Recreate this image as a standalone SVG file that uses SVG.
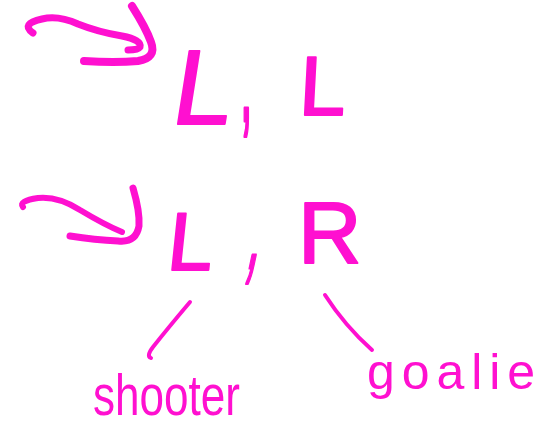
<svg xmlns="http://www.w3.org/2000/svg" width="550" height="439" viewBox="0 0 550 439">
<style>
.ink{fill:none;stroke:#ff10d0;stroke-linecap:round;stroke-linejoin:round}
.big{font-family:"Liberation Sans",Arial,sans-serif;fill:#ff10d0;stroke:#ff10d0;stroke-width:2;stroke-linejoin:round}
.hand{font-family:"Liberation Sans",Arial,sans-serif;fill:#ff10d0}
</style>
<rect width="550" height="439" fill="#ffffff"/>
<g id="arrow1">
<path class="ink" stroke-width="7" d="M33 33 Q20 24 42 19 Q58 15 78 24 Q98 32 122 36 Q142 40 140 47 Q138 50 128 50"/>
<path class="ink" stroke-width="8" d="M132 6 Q146 28 151 42 Q157 58 138 61 Q115 63 84 61"/>
</g>
<g id="row1">
<text class="big" x="170" y="124" font-size="106" transform="skewX(-9) translate(19,0)">L</text>
<text class="big" font-size="75" transform="translate(240,121) scale(0.6,1.6)">,</text>
<text class="big" x="298" y="115" font-size="84" transform="skewX(-3) translate(6,0)">L</text>
</g>
<g id="arrow2">
<path class="ink" stroke-width="6" d="M23 207 Q18 201 38 198 Q58 196 80 210 Q105 225 122 232"/>
<path class="ink" stroke-width="7" d="M133 188 Q140 212 139 226 Q136 243 118 241 Q95 240 70 236"/>
</g>
<g id="row2">
<text class="big" x="177" y="270" font-size="82" transform="skewX(-6) translate(17,0)">L</text>
<text class="big" font-size="75" transform="translate(245,268) skewX(-12) scale(0.6,1.6)">,</text>
<text class="big" x="298" y="263" font-size="88">R</text>
</g>
<g id="connectors">
<path class="ink" stroke-width="4" d="M190 302 Q168 328 153 347 Q146 356 151 358"/>
<path class="ink" stroke-width="4" d="M325 295 Q345 326 372 350"/>
</g>
<g id="shooter">
<text class="hand" x="93" y="415" font-size="58" textLength="147" lengthAdjust="spacingAndGlyphs">shooter</text>
</g>
<g id="goalie">
<text class="hand" x="367" y="389" font-size="50" textLength="168" lengthAdjust="spacing">goalie</text>
</g>
</svg>
